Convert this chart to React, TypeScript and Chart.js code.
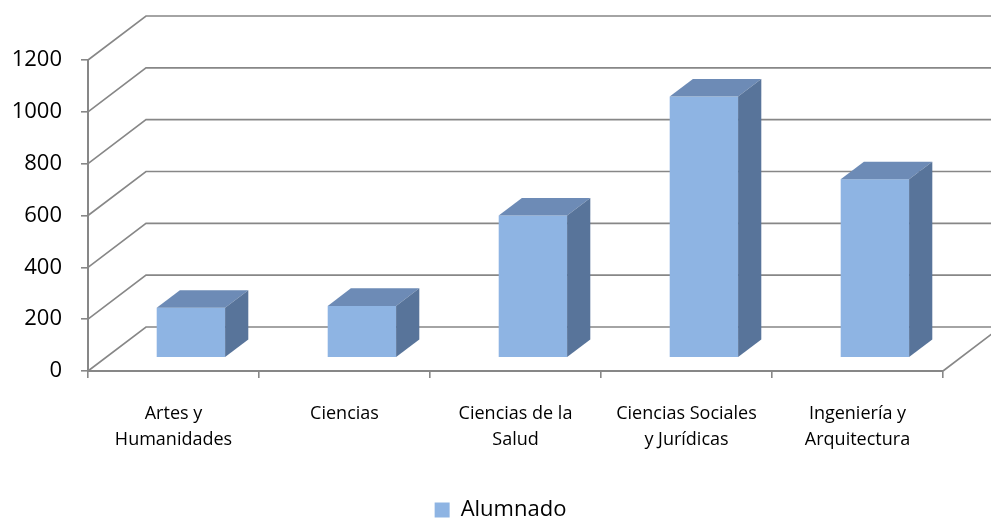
import React, { useEffect, useRef } from "react";
import { Chart, registerables } from "chart.js";

Chart.register(...registerables);

// ---- data ----
const categories: string[][] = [
  ["Artes y", "Humanidades"],
  ["Ciencias"],
  ["Ciencias de la", "Salud"],
  ["Ciencias Sociales", "y Jurídicas"],
  ["Ingeniería y", "Arquitectura"],
];
const seriesName = "Alumnado";
const alumnado = [193, 200, 549, 1008, 689];
const yMin = 0;
const yMax = 1200;
const yStep = 200;

// ---- style ----
const FONT = "'Open Sans', 'Noto Sans', sans-serif";
const GRID = "#878787";
const FRONT = "#8EB4E3";
const TOPC = "#6D8BB6";
const SIDE = "#58749A";
const WALL_DX = 58;
const WALL_DY = -44;
const BAR_FRONT = 0.3;
const BAR_BACK = 0.7;

const threeD = {
  id: "threeD",
  beforeDatasetsDraw(chart: any) {
    const ctx = chart.ctx;
    const xs = chart.scales.x;
    const ys = chart.scales.y;
    ctx.save();
    ctx.strokeStyle = GRID;
    ctx.lineWidth = 1.6;
    ctx.beginPath();
    for (const t of ys.ticks) {
      const py = ys.getPixelForValue(t.value);
      ctx.moveTo(xs.left, py);
      ctx.lineTo(xs.left + WALL_DX, py + WALL_DY);
      ctx.lineTo(xs.right + WALL_DX, py + WALL_DY);
    }
    const pb = ys.getPixelForValue(yMin);
    ctx.moveTo(xs.right, pb);
    ctx.lineTo(xs.right + WALL_DX, pb + WALL_DY);
    ctx.stroke();
    ctx.restore();
  },
  beforeDatasetDraw() {
    return false;
  },
  afterDatasetsDraw(chart: any) {
    const ctx = chart.ctx;
    const meta = chart.getDatasetMeta(0);
    const fx = WALL_DX * BAR_FRONT;
    const fy = WALL_DY * BAR_FRONT;
    const dx = WALL_DX * (BAR_BACK - BAR_FRONT);
    const dy = WALL_DY * (BAR_BACK - BAR_FRONT);
    ctx.save();
    meta.data.forEach((el: any) => {
      const { x, y, base, width } = el.getProps(["x", "y", "base", "width"], true);
      const L = x - width / 2 + fx;
      const R = x + width / 2 + fx;
      const T = y + fy;
      const B = base + fy;
      ctx.fillStyle = FRONT;
      ctx.fillRect(L, T, R - L, B - T);
      ctx.fillStyle = TOPC;
      ctx.beginPath();
      ctx.moveTo(L, T);
      ctx.lineTo(R, T);
      ctx.lineTo(R + dx, T + dy);
      ctx.lineTo(L + dx, T + dy);
      ctx.closePath();
      ctx.fill();
      ctx.fillStyle = SIDE;
      ctx.beginPath();
      ctx.moveTo(R, T);
      ctx.lineTo(R + dx, T + dy);
      ctx.lineTo(R + dx, B + dy);
      ctx.lineTo(R, B);
      ctx.closePath();
      ctx.fill();
    });
    ctx.restore();
  },
};

export default function App() {
  const ref = useRef<HTMLCanvasElement | null>(null);
  useEffect(() => {
    if (!ref.current) return;
    const chart = new Chart(ref.current, {
      type: "bar",
      data: {
        labels: categories as any,
        datasets: [
          {
            label: seriesName,
            data: alumnado,
            backgroundColor: FRONT,
            borderWidth: 0,
            categoryPercentage: 1,
            barPercentage: 0.4,
          },
        ],
      },
      options: {
        responsive: false,
        animation: false,
        devicePixelRatio: 1,
        layout: { padding: { left: 10, right: 0, top: 60, bottom: 0 } },
        plugins: {
          legend: {
            position: "bottom",
            maxHeight: 20,
            labels: {
              font: { family: FONT, size: 22 },
              color: "#000",
              boxWidth: 15,
              boxHeight: 15,
              padding: 0,
            },
          },
          tooltip: { enabled: false },
        },
        scales: {
          x: {
            type: "category",
            offset: true,
            grid: {
              display: true,
              drawOnChartArea: false,
              drawTicks: true,
              tickLength: 7,
              color: GRID,
              lineWidth: 1.6,
              offset: true,
            },
            border: { display: true, color: GRID, width: 2 },
            ticks: {
              font: { family: FONT, size: 18, lineHeight: "26px" },
              color: "#000",
              maxRotation: 0,
              minRotation: 0,
              autoSkip: false,
              padding: 23,
            },
            afterFit(s: any) {
              s.height = 128;
            },
          },
          y: {
            type: "linear",
            position: "left",
            min: yMin,
            max: yMax,
            grid: {
              display: true,
              drawOnChartArea: false,
              drawTicks: true,
              tickLength: 7,
              color: GRID,
              lineWidth: 1.6,
            },
            border: { display: true, color: GRID, width: 2 },
            ticks: {
              stepSize: yStep,
              font: { family: FONT, size: 22 },
              color: "#000",
              padding: 19,
              callback: (v: any) => String(v),
            },
            afterFit(s: any) {
              s.width = 78;
            },
          },
          y2: {
            type: "linear",
            position: "right",
            display: true,
            grid: { display: false },
            border: { display: false },
            ticks: { display: false },
            afterFit(s: any) {
              s.width = 48;
            },
          },
        },
      } as any,
      plugins: [threeD as any],
    });
    return () => chart.destroy();
  }, []);
  return (
    <div style={{ position: "fixed", left: 0, top: 0, width: 991, height: 519, background: "#fff" }}>
      <canvas ref={ref} width={991} height={519} />
    </div>
  );
}
